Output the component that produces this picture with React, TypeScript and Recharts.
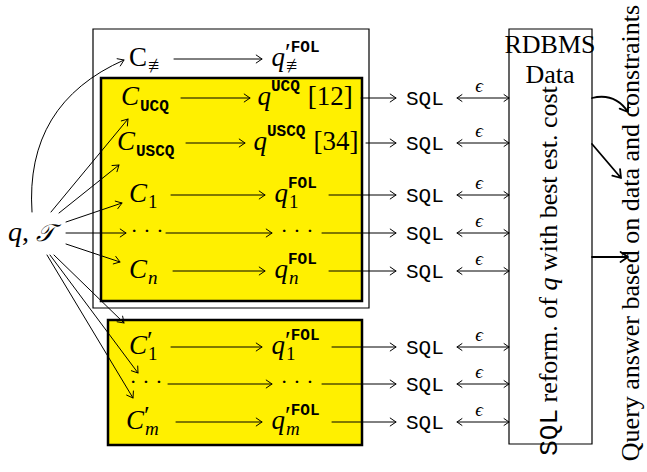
import React from "react";
import { ScatterChart, XAxis, YAxis, Scatter, ReferenceArea, ReferenceLine } from "recharts";

const W = 647;
const H = 472;
const SERIF = "'Liberation Serif', 'Times New Roman', serif";
const MONO = "'Liberation Mono', 'DejaVu Sans Mono', monospace";
const YELLOW = "#fff000";

// diagram laid out in picture units: x to the right, y down from the top

// outer frame, the two yellow groups, the RDBMS box
const boxes = [
  { x1: 93, x2: 369, y1: 29, y2: 308 },
  { x1: 101, x2: 362, y1: 78, y2: 301 },
  { x1: 108, x2: 362, y1: 320, y2: 445 },
  { x1: 509, x2: 592, y1: 29, y2: 444 },
];

// one row per reformulation: C≢, UCQ, USCQ, C1, ..., Cn, C'1, ..., C'm
const rowY = [59, 98, 143, 195, 233, 271, 347, 384, 422];
const firstArrowFrom = [174, 181, 186, 171, 166, 173, 171, 168, 176];
const firstArrowTo = [262, 250, 245, 265, 272, 265, 262, 272, 262];

// rows that go on to SQL (all but the first)
const sqlRowY = rowY.slice(1);
const secondArrowFrom = [361, 366, 329, 322, 329, 332, 322, 332];
const secondArrowTo = 396;
const sqlX = 406;
const epsFrom = 457;
const epsTo = 509;
const epsX = 479;

const leftNodes = [
  { x: 147, y: 59, base: "C", rm: true, sub: "≢", subFont: "sym" },
  { x: 139, y: 98, base: "C", sub: "UCQ", subFont: "tt" },
  { x: 135, y: 143, base: "C", sub: "USCQ", subFont: "tt" },
  { x: 147, y: 195, base: "C", sub: "1", subFont: "rm" },
  { x: 147, y: 271, base: "C", sub: "n", subFont: "it" },
  { x: 147, y: 347, base: "C", prime: true, sub: "1", subFont: "rm" },
  { x: 144, y: 422, base: "C", prime: true, sub: "m", subFont: "it" },
];

const queryNodes = [
  { x: 285, y: 59, base: "q", prime: true, sup: "FOL", sub: "≢", subFont: "sym" },
  { x: 271, y: 98, base: "q", sup: "UCQ", tail: "[12]" },
  { x: 267, y: 143, base: "q", sup: "USCQ", tail: "[34]" },
  { x: 288, y: 195, base: "q", sup: "FOL", sub: "1", subFont: "rm" },
  { x: 288, y: 271, base: "q", sup: "FOL", sub: "n", subFont: "it" },
  { x: 285, y: 347, base: "q", prime: true, sup: "FOL", sub: "1", subFont: "rm" },
  { x: 285, y: 422, base: "q", prime: true, sup: "FOL", sub: "m", subFont: "it" },
];

const dotNodes = [
  { x: 147, y: 233 },
  { x: 297, y: 233 },
  { x: 146, y: 384 },
  { x: 297, y: 384 },
];

// fan of arrows leaving q, T
const fanArrows = [
  { x1: 51, y1: 212, x2: 128, y2: 119 },
  { x1: 59, y1: 213, x2: 119, y2: 165 },
  { x1: 66, y1: 222, x2: 122, y2: 203 },
  { x1: 66, y1: 233, x2: 126, y2: 233 },
  { x1: 66, y1: 244, x2: 120, y2: 262 },
  { x1: 54, y1: 255, x2: 124, y2: 323 },
  { x1: 50, y1: 255, x2: 138, y2: 373 },
  { x1: 47, y1: 255, x2: 133, y2: 398 },
];
const bentArrows = [
  { x1: 32, y1: 212, x2: 124, y2: 60, bend: 0.35, heavy: false },
  { x1: 592, y1: 98, x2: 628, y2: 112, bend: 0.35, heavy: true },
];
const outArrows = [
  { x1: 592, y1: 144, x2: 621, y2: 178 },
  { x1: 592, y1: 257, x2: 628, y2: 257 },
];

const textNodes = [
  { x: 31, y: 233, kind: "qT", text: "" },
  { x: 550, y: 53, kind: "title", text: "RDBMS" },
  { x: 550, y: 83, kind: "title", text: "Data" },
  { x: 557, y: 271, kind: "vsql", text: "reform. of " },
  { x: 639, y: 233, kind: "vtext", text: "Query answer based on data and constraints" },
];

const head = (x: number, y: number, ang: number, len: number) => {
  const s = 0.6;
  const ax = x - len * Math.cos(ang - s);
  const ay = y - len * Math.sin(ang - s);
  const bx = x - len * Math.cos(ang + s);
  const by = y - len * Math.sin(ang + s);
  return ` M${ax},${ay} L${x},${y} L${bx},${by}`;
};

const makeArrow =
  (opts: { both?: boolean; bend?: number; w?: number; len?: number }) => (p: any) => {
    const { x1, y1, x2, y2 } = p;
    const w = opts.w ?? 1;
    const len = opts.len ?? 7;
    let d: string;
    let endAng: number;
    let startAng: number;
    if (opts.bend) {
      const cx = (x1 + x2) / 2 + opts.bend * (y2 - y1);
      const cy = (y1 + y2) / 2 - opts.bend * (x2 - x1);
      d = `M${x1},${y1} Q${cx},${cy} ${x2},${y2}`;
      endAng = Math.atan2(y2 - cy, x2 - cx);
      startAng = Math.atan2(y1 - cy, x1 - cx);
    } else {
      d = `M${x1},${y1} L${x2},${y2}`;
      endAng = Math.atan2(y2 - y1, x2 - x1);
      startAng = endAng + Math.PI;
    }
    d += head(x2, y2, endAng, len);
    if (opts.both) d += head(x1, y1, startAng, len);
    return (
      <path d={d} fill="none" stroke="#000" strokeWidth={w} strokeLinecap="round" strokeLinejoin="round" />
    );
  };

const MathShape = (props: any) => {
  const { cx, cy, payload: n } = props;
  const bl = cy + 7;
  const subStyle: any =
    n.subFont === "tt"
      ? { fontFamily: MONO, fontWeight: 700, fontSize: 16 }
      : {
          fontFamily: SERIF,
          fontStyle: n.subFont === "it" ? "italic" : "normal",
          fontSize: n.subFont === "sym" ? 20 : 19,
        };
  return (
    <g>
      <text x={cx} y={bl} textAnchor="end" fontFamily={SERIF} fontStyle={n.rm ? "normal" : "italic"} fontSize={27}>
        {n.base}
      </text>
      {(n.prime || n.sup || n.tail) && (
        <text x={cx} y={bl} fontFamily={SERIF} fontSize={27}>
          {n.prime && (
            <tspan dy={-5} fontSize={26}>
              ′
            </tspan>
          )}
          {n.sup && (
            <tspan dy={n.prime ? -9 : -14} fontFamily={MONO} fontWeight={700} fontSize={16}>
              {n.sup}
            </tspan>
          )}
          {n.tail && (
            <tspan dy={14} dx={8}>
              {n.tail}
            </tspan>
          )}
        </text>
      )}
      {n.sub && (
        <text x={cx + 1} y={bl + 6} {...subStyle}>
          {n.sub}
        </text>
      )}
    </g>
  );
};

const DotsShape = (props: any) => (
  <text x={props.cx} y={props.cy + 5} textAnchor="middle" fontFamily={SERIF} fontSize={22}>
    · · ·
  </text>
);

const SqlShape = (props: any) => (
  <text x={props.cx} y={props.cy + 7} fontFamily={MONO} fontSize={21}>
    SQL
  </text>
);

const EpsShape = (props: any) => (
  <text x={props.cx} y={props.cy - 6} textAnchor="middle" fontFamily={SERIF} fontStyle="italic" fontSize={19}>
    ϵ
  </text>
);

const TextShape = (props: any) => {
  const { cx, cy, payload: t } = props;
  if (t.kind === "qT") {
    return (
      <text x={cx} y={cy + 8} textAnchor="middle" fontFamily={SERIF} fontSize={28}>
        <tspan fontStyle="italic">q</tspan>
        <tspan>, </tspan>
        <tspan fontFamily="'DejaVu Serif', 'DejaVu Sans', serif" fontStyle="italic" fontSize={24}>
          𝒯
        </tspan>
      </text>
    );
  }
  if (t.kind === "title") {
    return (
      <text x={cx} y={cy} textAnchor="middle" fontFamily={SERIF} fontSize={26}>
        {t.text}
      </text>
    );
  }
  if (t.kind === "vsql") {
    return (
      <text
        x={cx}
        y={cy}
        transform={`rotate(-90 ${cx} ${cy})`}
        textAnchor="middle"
        fontFamily={SERIF}
        fontSize={26}
      >
        <tspan fontFamily={MONO}>SQL</tspan>
        <tspan> {t.text}</tspan>
        <tspan fontStyle="italic">q</tspan>
        <tspan> with best est. cost</tspan>
      </text>
    );
  }
  return (
    <text
      x={cx}
      y={cy}
      transform={`rotate(-90 ${cx} ${cy})`}
      textAnchor="middle"
      fontFamily={SERIF}
      fontSize={26}
    >
      {t.text}
    </text>
  );
};

const thin = makeArrow({ w: 1, len: 7 });
const dbl = makeArrow({ w: 1, len: 6, both: true });
const heavy = makeArrow({ w: 1.8, len: 9 });

export default function App() {
  const sqlNodes = sqlRowY.map((y) => ({ x: sqlX, y }));
  const epsNodes = sqlRowY.map((y) => ({ x: epsX, y }));
  return (
    <div style={{ position: "absolute", left: 0, top: 0, width: W, height: H, background: "#fff" }}>
      <ScatterChart width={W} height={H} margin={{ top: 0, right: 0, bottom: 0, left: 0 }}>
        <XAxis type="number" dataKey="x" domain={[0, W]} hide allowDataOverflow />
        <YAxis type="number" dataKey="y" domain={[0, H]} reversed hide allowDataOverflow />

        {boxes.map((b, i) => (
          <ReferenceArea
            key={`box-${i}`}
            x1={b.x1}
            x2={b.x2}
            y1={b.y1}
            y2={b.y2}
            fill={i === 1 || i === 2 ? YELLOW : "none"}
            fillOpacity={1}
            stroke="#000"
            strokeWidth={i === 1 || i === 2 ? 2.5 : 1.2}
          />
        ))}

        {rowY.map((y, i) => (
          <ReferenceLine
            key={`r1-${i}`}
            segment={[
              { x: firstArrowFrom[i], y },
              { x: firstArrowTo[i], y },
            ]}
            shape={thin}
          />
        ))}
        {sqlRowY.map((y, i) => (
          <ReferenceLine
            key={`r2-${i}`}
            segment={[
              { x: secondArrowFrom[i], y },
              { x: secondArrowTo, y },
            ]}
            shape={thin}
          />
        ))}
        {sqlRowY.map((y, i) => (
          <ReferenceLine
            key={`eps-${i}`}
            segment={[
              { x: epsFrom, y },
              { x: epsTo, y },
            ]}
            shape={dbl}
          />
        ))}
        {fanArrows.map((a, i) => (
          <ReferenceLine
            key={`fan-${i}`}
            segment={[
              { x: a.x1, y: a.y1 },
              { x: a.x2, y: a.y2 },
            ]}
            shape={thin}
          />
        ))}
        {bentArrows.map((a, i) => (
          <ReferenceLine
            key={`bent-${i}`}
            segment={[
              { x: a.x1, y: a.y1 },
              { x: a.x2, y: a.y2 },
            ]}
            shape={makeArrow({ bend: a.bend, w: a.heavy ? 1.8 : 1, len: a.heavy ? 9 : 7 })}
          />
        ))}
        {outArrows.map((a, i) => (
          <ReferenceLine
            key={`out-${i}`}
            segment={[
              { x: a.x1, y: a.y1 },
              { x: a.x2, y: a.y2 },
            ]}
            shape={heavy}
          />
        ))}

        <Scatter data={leftNodes} shape={MathShape} isAnimationActive={false} />
        <Scatter data={queryNodes} shape={MathShape} isAnimationActive={false} />
        <Scatter data={dotNodes} shape={DotsShape} isAnimationActive={false} />
        <Scatter data={sqlNodes} shape={SqlShape} isAnimationActive={false} />
        <Scatter data={epsNodes} shape={EpsShape} isAnimationActive={false} />
        <Scatter data={textNodes} shape={TextShape} isAnimationActive={false} />
      </ScatterChart>
    </div>
  );
}
